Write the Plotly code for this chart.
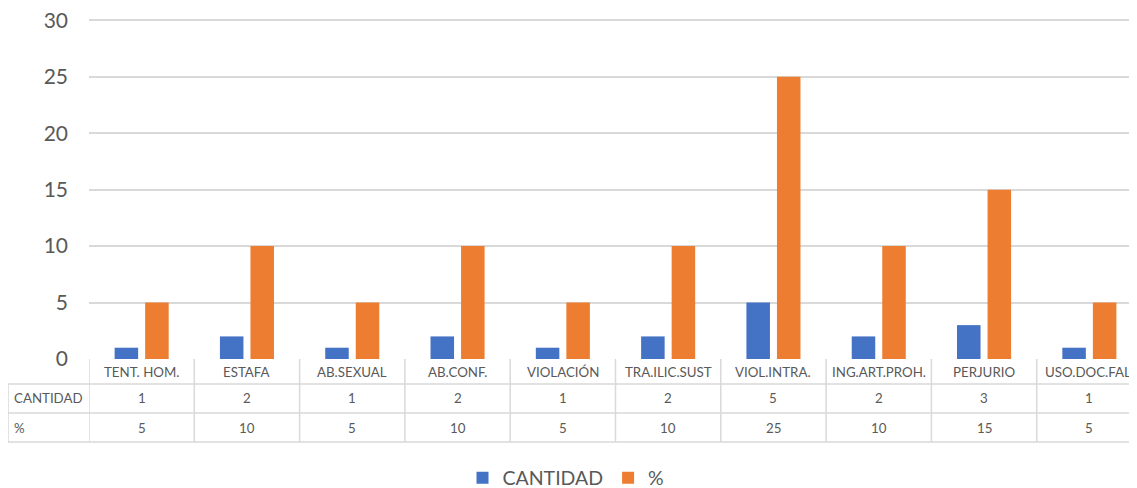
import plotly.graph_objects as go

categories = ["TENT. HOM.", "ESTAFA", "AB.SEXUAL", "AB.CONF.", "VIOLACIÓN",
              "TRA.ILIC.SUST", "VIOL.INTRA.", "ING.ART.PROH.", "PERJURIO", "USO.DOC.FAL."]
cantidad = [1, 2, 1, 2, 1, 2, 5, 2, 3, 1]
porcentaje = [5, 10, 5, 10, 5, 10, 25, 10, 15, 5]
y_ticks = [0, 5, 10, 15, 20, 25, 30]

BLUE = "#4472C4"
ORANGE = "#ED7D31"
TXT = "#595959"
GRID = "#D9D9D9"
FONT = "Lato, Open Sans, sans-serif"

# page offset of the figure (body margin)
OFF = 8
W, H = 1134, 480
YMAX = 30.2
L, R, T, B = 81, 0, 10, 129
plot_h = H - T - B
plot_w = W - L - R

def py(page_y):
    return (H - B - (page_y - OFF)) / plot_h

def px(page_x):
    return ((page_x - OFF) - L) / plot_w

fig = go.Figure()
fig.add_trace(go.Bar(x=list(range(len(categories))), y=cantidad, name="CANTIDAD",
                     marker=dict(color=BLUE, line=dict(width=0))))
fig.add_trace(go.Bar(x=list(range(len(categories))), y=porcentaje, name="%",
                     marker=dict(color=ORANGE, line=dict(width=0))))

shapes = []
annotations = []
n = len(categories)
row_y = [359, 384, 413, 442]  # page y of table horizontal lines
lw = 1.5
for yy in row_y[1:]:
    shapes.append(dict(type="line", xref="paper", yref="paper", x0=px(8), x1=1.0,
                       y0=py(yy), y1=py(yy), line=dict(color=GRID, width=lw)))
for k in range(n + 1):
    shapes.append(dict(type="line", xref="x", yref="paper", x0=k - 0.5, x1=k - 0.5,
                       y0=py(row_y[0]), y1=py(row_y[3]), line=dict(color=GRID, width=lw)))
shapes.append(dict(type="line", xref="paper", yref="paper", x0=px(8), x1=px(8),
                   y0=py(row_y[1]), y1=py(row_y[3]), line=dict(color=GRID, width=lw)))

TS = 13.3
tf = dict(size=TS, color=TXT, family=FONT)
centers = [(row_y[i] + row_y[i + 1]) / 2 for i in range(3)]
for k, c in enumerate(categories):
    for row, txt in enumerate([c, str(cantidad[k]), str(porcentaje[k])]):
        annotations.append(dict(x=k, y=py(centers[row]), xref="x", yref="paper", text=txt,
                                xanchor="center", yanchor="middle", showarrow=False, font=tf))
annotations.append(dict(x=px(12), y=py(centers[1]), xref="paper", yref="paper", text="CANTIDAD",
                        xanchor="left", yanchor="middle", showarrow=False, font=tf))
annotations.append(dict(x=px(12), y=py(centers[2]), xref="paper", yref="paper", text="%",
                        xanchor="left", yanchor="middle", showarrow=False, font=tf))

fig.update_layout(
    width=W, height=H,
    margin=dict(l=L, r=R, t=T, b=B, autoexpand=False),
    paper_bgcolor="white", plot_bgcolor="white",
    barmode="group", bargap=0.42, bargroupgap=0.23,
    font=dict(family=FONT, color=TXT),
    xaxis=dict(range=[-0.5, n - 0.5], showticklabels=False, showgrid=False,
               zeroline=False, showline=False, ticks=""),
    yaxis=dict(range=[0, YMAX], tickvals=y_ticks, showgrid=True, gridcolor=GRID, gridwidth=1.5,
               zeroline=False, showline=False, ticks="", ticklabelstandoff=20,
               ticklabeloverflow="allow",
               tickfont=dict(size=21, color=TXT, family=FONT)),
    legend=dict(orientation="h", x=px(566), xanchor="center", y=py(478), yanchor="middle",
                font=dict(size=19.5, color=TXT, family=FONT), itemwidth=30),
    shapes=shapes, annotations=annotations,
)
fig.write_html("out.html")
